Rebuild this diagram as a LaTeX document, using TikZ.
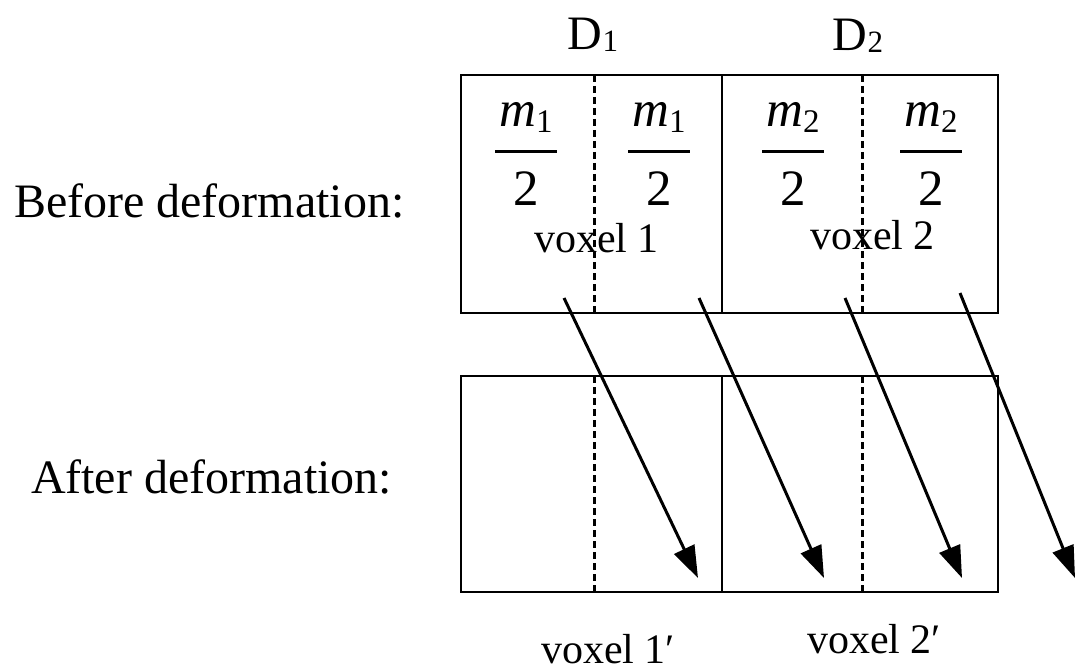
\documentclass[tikz,border=0pt]{standalone}
\usepackage{fontspec}
\setmainfont{Liberation Serif}
\usetikzlibrary{arrows.meta}
\newcommand{\halfmass}[3]{%
  \node[num] (#1n) at (#2,127) {\textit{m}\raisebox{-6pt}{\fontsize{33}{33}\selectfont #3}};
  \draw[fracbar] (#2-31,152) -- (#2+31,152);
  \node[den] (#1d) at (#2,205) {2};
}
\begin{document}
\begin{tikzpicture}[x=1pt,y=-1pt,
  txt/.style={inner sep=0pt, outer sep=0pt},
  lbl/.style={txt, anchor=base west, font=\fontsize{48}{52}\selectfont},
  vox/.style={txt, anchor=base west, font=\fontsize{42}{46}\selectfont},
  dlbl/.style={txt, anchor=base, font=\fontsize{48}{52}\selectfont},
  num/.style={txt, anchor=base, font=\fontsize{51}{56}\selectfont},
  den/.style={txt, anchor=base, font=\fontsize{51}{56}\selectfont},
  fracbar/.style={line width=3pt},
  boxline/.style={line width=2.9pt},
  dashline/.style={line width=3pt, dash pattern=on 7pt off 4pt},
  arr/.style={line width=3pt, -{Triangle[length=32pt,width=22pt]}}]
\useasboundingbox (0,0) rectangle (1078,671);

% labels
\node[lbl] (before) at (14,217) {Before deformation:};
\node[lbl] (after) at (31,493) {After deformation:};
\node[dlbl] (d1) at (593,50) {D\raisebox{-2pt}{\fontsize{31}{31}\selectfont 1}};
\node[dlbl] (d2) at (858,51) {D\raisebox{-2pt}{\fontsize{31}{31}\selectfont 2}};

% top boxes
\draw[boxline] (461,75) rectangle (998,313);
\draw[boxline] (722,75) -- (722,313);
\draw[dashline] (594,75) -- (594,313);
\draw[dashline] (862,75) -- (862,313);

% bottom boxes
\draw[boxline] (461,376) rectangle (998,592);
\draw[boxline] (722,376) -- (722,592);
\draw[dashline] (594,376) -- (594,592);
\draw[dashline] (862,376) -- (862,592);

% fractions
\halfmass{a}{526}{1}
\halfmass{b}{659}{1}
\halfmass{c}{793}{2}
\halfmass{d}{931}{2}

% voxel labels
\node[vox] (v1) at (534,252) {voxel 1};
\node[vox] (v2) at (810,249) {voxel 2};
\node[vox] (v1p) at (541,663) {voxel 1\char"2032};
\node[vox] (v2p) at (807,653) {voxel 2\char"2032};

% arrows
\coordinate (s1) at (564,298); \coordinate (e1) at (698,578);
\coordinate (s2) at (699,298); \coordinate (e2) at (824,578);
\coordinate (s3) at (845,298); \coordinate (e3) at (962,578);
\coordinate (s4) at (960,293); \coordinate (e4) at (1075,578);
\draw[arr] (s1) -- (e1);
\draw[arr] (s2) -- (e2);
\draw[arr] (s3) -- (e3);
\draw[arr] (s4) -- (e4);
\end{tikzpicture}
\end{document}
